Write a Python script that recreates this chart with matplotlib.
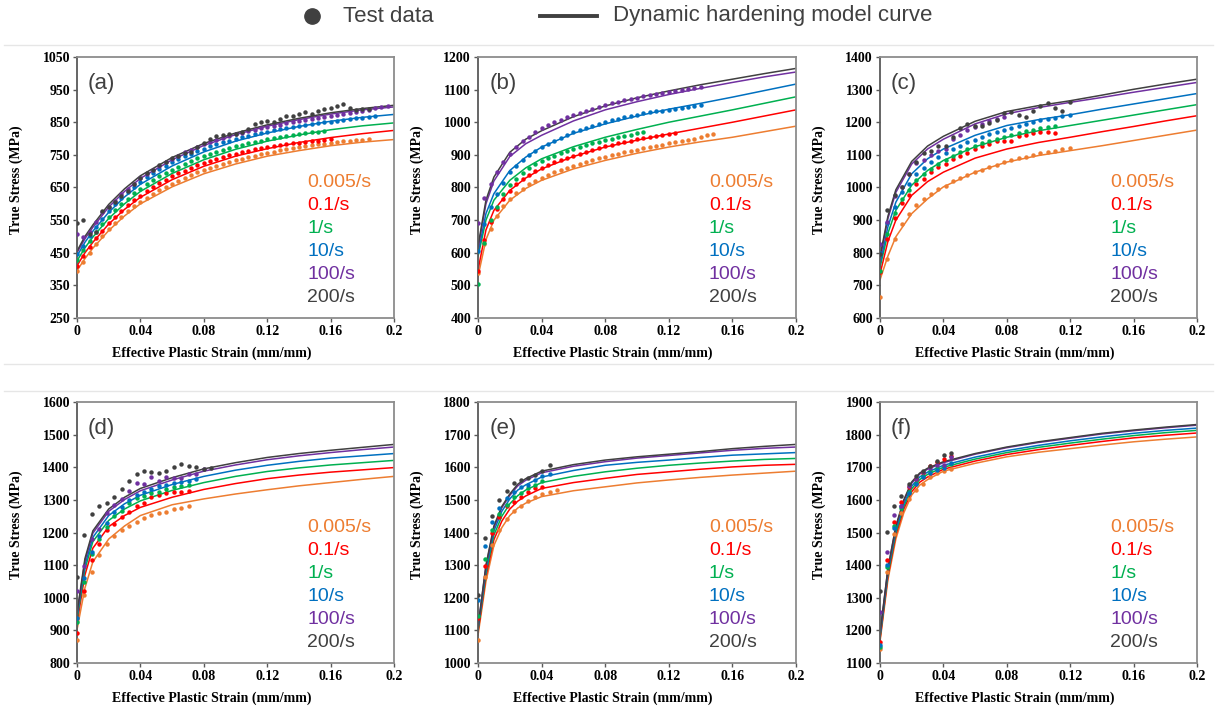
import matplotlib
matplotlib.use("Agg")
import matplotlib.pyplot as plt
from matplotlib.lines import Line2D

RATES = ["0.005/s", "0.1/s", "1/s", "10/s", "100/s", "200/s"]
COLORS = ["#ED7D31", "#FF0000", "#00B050", "#0070C0", "#7030A0", "#404040"]
X_TICKS = [0, 0.04, 0.08, 0.12, 0.16, 0.2]
X_TICK_LABELS = ["0", "0.04", "0.08", "0.12", "0.16", "0.2"]

# ---- model curves (strain grid, then one list per rate: 0.005, 0.1, 1, 10, 100, 200 /s)
MODEL_X1 = [0, 0.005, 0.01, 0.02, 0.03, 0.04, 0.06, 0.08, 0.10, 0.12, 0.14, 0.16, 0.18, 0.20]
MODEL_X2 = [0, 0.005, 0.01, 0.015, 0.02, 0.025, 0.03, 0.04, 0.06, 0.08, 0.10, 0.12, 0.14, 0.16, 0.18, 0.20]

A_MODEL = [
    [395, 432, 464, 518, 563, 600, 652, 692, 722, 746, 763, 778, 789, 797],
    [410, 450, 482, 538, 583, 620, 674, 715, 746, 769, 788, 803, 815, 825],
    [425, 465, 498, 555, 600, 638, 693, 735, 767, 792, 811, 827, 839, 848],
    [440, 482, 516, 574, 621, 660, 716, 759, 792, 817, 837, 853, 865, 874],
    [450, 493, 528, 590, 638, 678, 735, 779, 812, 838, 858, 875, 888, 897],
    [455, 500, 535, 598, 646, 686, 742, 785, 817, 842, 862, 879, 892, 902],
]
B_MODEL = [
    [527, 640, 700, 761, 797, 822, 857, 883, 905, 924, 940, 954, 971, 988],
    [547, 670, 730, 791, 829, 857, 895, 924, 945, 964, 982, 1000, 1019, 1038],
    [588, 700, 761, 822, 860, 888, 925, 954, 978, 1000, 1019, 1038, 1058, 1078],
    [598, 720, 781, 852, 893, 924, 966, 995, 1019, 1040, 1058, 1077, 1097, 1117],
    [612, 750, 820, 895, 934, 960, 1004, 1038, 1063, 1085, 1104, 1122, 1139, 1154],
    [620, 761, 832, 908, 948, 974, 1017, 1050, 1075, 1096, 1115, 1132, 1149, 1165],
]
C_MODEL = [
    [717, 790, 849, 920, 965, 1002, 1047, 1078, 1098, 1113, 1128, 1144, 1160, 1176],
    [735, 835, 900, 976, 1018, 1047, 1090, 1118, 1138, 1154, 1171, 1187, 1204, 1220],
    [755, 860, 930, 1007, 1052, 1083, 1125, 1154, 1174, 1190, 1206, 1222, 1238, 1254],
    [765, 880, 955, 1042, 1088, 1118, 1160, 1190, 1208, 1223, 1240, 1256, 1272, 1288],
    [780, 905, 985, 1072, 1118, 1148, 1195, 1226, 1245, 1261, 1276, 1292, 1307, 1322],
    [788, 912, 993, 1080, 1127, 1157, 1203, 1233, 1251, 1266, 1283, 1301, 1317, 1332],
]
D_MODEL = [
    [902, 1030, 1110, 1180, 1220, 1252, 1285, 1303, 1318, 1331, 1343, 1353, 1363, 1372],
    [922, 1070, 1152, 1218, 1252, 1277, 1308, 1332, 1350, 1365, 1376, 1385, 1392, 1399],
    [933, 1088, 1172, 1237, 1272, 1297, 1329, 1353, 1372, 1387, 1398, 1407, 1414, 1421],
    [943, 1100, 1185, 1252, 1288, 1314, 1347, 1372, 1391, 1406, 1418, 1428, 1435, 1442],
    [948, 1112, 1198, 1265, 1301, 1328, 1361, 1388, 1407, 1423, 1435, 1445, 1454, 1462],
    [953, 1120, 1205, 1272, 1308, 1335, 1368, 1395, 1414, 1430, 1442, 1452, 1461, 1470],
]
E_MODEL = [
    [1085, 1250, 1360, 1415, 1452, 1475, 1490, 1510, 1528, 1540, 1552, 1561, 1569, 1576, 1582, 1588],
    [1095, 1265, 1378, 1435, 1472, 1496, 1512, 1535, 1553, 1566, 1578, 1586, 1594, 1601, 1606, 1609],
    [1100, 1275, 1392, 1450, 1488, 1513, 1530, 1553, 1572, 1586, 1597, 1606, 1613, 1619, 1624, 1627],
    [1105, 1285, 1405, 1465, 1503, 1530, 1546, 1570, 1590, 1606, 1615, 1622, 1630, 1637, 1641, 1645],
    [1108, 1296, 1415, 1476, 1514, 1543, 1560, 1583, 1603, 1617, 1628, 1636, 1644, 1652, 1658, 1662],
    [1110, 1300, 1420, 1480, 1518, 1548, 1565, 1588, 1608, 1622, 1632, 1640, 1648, 1657, 1664, 1670],
]
F_MODEL = [
    [1165, 1355, 1480, 1560, 1615, 1645, 1662, 1688, 1712, 1732, 1746, 1757, 1768, 1778, 1786, 1793],
    [1172, 1365, 1492, 1572, 1625, 1654, 1670, 1694, 1719, 1739, 1754, 1767, 1779, 1790, 1798, 1805],
    [1178, 1373, 1500, 1580, 1634, 1662, 1678, 1700, 1725, 1745, 1761, 1774, 1786, 1797, 1806, 1813],
    [1182, 1380, 1508, 1588, 1642, 1670, 1685, 1706, 1731, 1751, 1767, 1781, 1793, 1804, 1813, 1820],
    [1188, 1388, 1517, 1597, 1651, 1679, 1694, 1714, 1740, 1760, 1776, 1789, 1802, 1812, 1821, 1829],
    [1190, 1390, 1520, 1600, 1655, 1682, 1697, 1717, 1742, 1762, 1778, 1791, 1804, 1814, 1823, 1831],
]

# ---- test data (strain samples, then stress per rate; lists stop where the test stopped)
TEST_X_AB = [0.000, 0.004, 0.008, 0.012, 0.016, 0.020, 0.024, 0.028, 0.032, 0.036,
             0.040, 0.044, 0.048, 0.052, 0.056, 0.060, 0.064, 0.068, 0.072, 0.076,
             0.080, 0.084, 0.088, 0.092, 0.096, 0.100, 0.104, 0.108, 0.112, 0.116,
             0.120, 0.124, 0.128, 0.132, 0.136, 0.140, 0.144, 0.148, 0.152, 0.156,
             0.160, 0.164, 0.168, 0.172, 0.176, 0.180, 0.184, 0.188, 0.192, 0.196]
TEST_X_C = [0, 0.0046, 0.0092, 0.0138, 0.0184, 0.0230, 0.0276, 0.0322, 0.0368, 0.0414,
            0.0460, 0.0506, 0.0552, 0.0598, 0.0644, 0.0690, 0.0736, 0.0782, 0.0828, 0.0874,
            0.0920, 0.0966, 0.1012, 0.1058, 0.1104, 0.1150, 0.1196]
TEST_X_D = [0, 0.0047, 0.0094, 0.0141, 0.0188, 0.0235, 0.0282, 0.0329, 0.0376, 0.0423,
            0.0470, 0.0517, 0.0564, 0.0611, 0.0658, 0.0705, 0.0752, 0.0799, 0.0846]
TEST_X_EF = [0, 0.0045, 0.0090, 0.0135, 0.0180, 0.0225, 0.0270, 0.0315, 0.0360, 0.0405,
             0.0450, 0.0495]

A_TEST = [
    [395, 422, 450, 476, 500, 522, 542, 560, 577, 592, 606, 619, 631, 642, 652, 662, 671, 680,
     688, 696, 703, 710, 716, 722, 728, 733, 738, 743, 748, 752, 756, 760, 764, 767, 770, 773,
     776, 779, 782, 784, 786, 789, 791, 793, 795, 797, 799],
    [410, 440, 468, 494, 518, 540, 560, 578, 595, 611, 625, 639, 651, 663, 674, 684, 693, 702,
     710, 718, 725, 732, 738, 744, 749, 754, 759, 763, 767, 770, 773, 776, 779, 782, 785, 787,
     790, 792, 794, 796, 798],
    [428, 458, 487, 513, 537, 560, 580, 599, 616, 632, 646, 660, 672, 684, 695, 705, 714, 723,
     731, 739, 746, 753, 759, 765, 771, 776, 781, 786, 790, 794, 798, 802, 805, 808, 811, 814,
     817, 819, 821, 823],
    [445, 470, 500, 528, 553, 577, 598, 618, 636, 652, 667, 681, 694, 706, 717, 727, 737, 746,
     754, 762, 769, 776, 782, 788, 794, 799, 804, 809, 813, 817, 821, 825, 829, 832, 835, 838,
     841, 844, 847, 850, 852, 855, 857, 860, 862, 864, 866, 868],
    [508, 497, 515, 545, 575, 590, 610, 630, 645, 662, 678, 690, 703, 716, 727, 738, 748, 758,
     766, 775, 783, 790, 797, 803, 808, 813, 818, 822, 827, 831, 835, 839, 843, 847, 850, 853,
     856, 859, 862, 865, 868, 871, 874, 877, 880, 884, 889, 893, 897, 900],
    [540, 550, 508, 515, 578, 590, 605, 625, 640, 660, 680, 695, 705, 718, 728, 740, 748, 755,
     760, 775, 785, 800, 808, 812, 815, 815, 820, 830, 845, 852, 855, 850, 860, 870, 868, 875,
     880, 875, 885, 890, 895, 900, 905, 895, 888, 892, 890],
]
B_TEST = [
    [537, 628, 674, 712, 742, 764, 782, 796, 810, 820, 830, 838, 846, 853, 860, 866, 872, 878,
     884, 889, 894, 899, 904, 908, 912, 916, 920, 924, 928, 931, 935, 938, 942, 945, 950, 955,
     960, 965],
    [543, 640, 693, 733, 766, 790, 810, 825, 838, 851, 860, 869, 877, 884, 891, 898, 904, 910,
     916, 921, 926, 931, 936, 940, 944, 948, 952, 956, 959, 962, 965, 966],
    [505, 630, 700, 740, 780, 808, 826, 843, 860, 871, 881, 890, 898, 905, 912, 918, 924, 930,
     935, 940, 945, 950, 954, 958, 962, 966, 970],
    [604, 688, 740, 781, 815, 846, 866, 885, 900, 912, 923, 934, 944, 953, 961, 969, 976, 983,
     989, 995, 1001, 1006, 1011, 1015, 1019, 1023, 1027, 1030, 1033, 1036, 1039, 1042, 1045,
     1048, 1050, 1053],
    [692, 768, 812, 849, 877, 902, 923, 941, 956, 969, 981, 991, 1000, 1008, 1016, 1023, 1029,
     1035, 1041, 1047, 1053, 1058, 1063, 1067, 1071, 1075, 1079, 1083, 1086, 1090, 1094, 1097,
     1100, 1103, 1105, 1108],
    [],
]
C_TEST = [
    [663, 782, 843, 889, 919, 945, 964, 980, 995, 1006, 1019, 1028, 1039, 1047, 1055, 1064,
     1070, 1077, 1084, 1089, 1094, 1101, 1105, 1109, 1113, 1117, 1120],
    [740, 841, 905, 951, 976, 1010, 1027, 1047, 1062, 1073, 1088, 1098, 1106, 1118, 1126, 1132,
     1141, 1144, 1141, 1159, 1161, 1166, 1171, 1171, 1167],
    [744, 859, 923, 964, 991, 1022, 1042, 1057, 1073, 1085, 1098, 1108, 1118, 1127, 1136, 1142,
     1149, 1156, 1162, 1168, 1174, 1177, 1182, 1184, 1190],
    [800, 890, 940, 985, 1012, 1040, 1060, 1078, 1092, 1105, 1117, 1128, 1138, 1147, 1155, 1163,
     1170, 1177, 1183, 1190, 1196, 1201, 1206, 1210, 1214, 1218, 1222],
    [826, 895, 975, 1000, 1042, 1075, 1085, 1100, 1112, 1118, 1150, 1162, 1175, 1185, 1195, 1205,
     1210, 1215],
    [795, 930, 976, 1000, 1040, 1078, 1106, 1113, 1126, 1126, 1156, 1182, 1195, 1190, 1187, 1197,
     1208, 1227, 1230, 1223, 1217, 1233, 1251, 1258, 1245, 1235, 1262],
]
D_TEST = [
    [871, 1007, 1080, 1131, 1165, 1190, 1208, 1220, 1233, 1244, 1253, 1259, 1264, 1271, 1276, 1281],
    [891, 1022, 1116, 1165, 1208, 1226, 1249, 1264, 1281, 1290, 1310, 1315, 1322, 1325, 1325, 1327],
    [927, 1049, 1133, 1179, 1218, 1251, 1266, 1290, 1305, 1312, 1320, 1325, 1332, 1339, 1343, 1346],
    [937, 1060, 1141, 1189, 1228, 1262, 1279, 1300, 1315, 1325, 1332, 1341, 1346, 1351, 1356, 1359,
     1363],
    [1022, 1097, 1180, 1211, 1261, 1284, 1303, 1328, 1351, 1348, 1369, 1359, 1371, 1366, 1368, 1378,
     1379, 1394],
    [1065, 1192, 1257, 1281, 1290, 1308, 1332, 1359, 1379, 1390, 1384, 1381, 1389, 1400, 1409, 1405,
     1402, 1394, 1397],
]
E_TEST = [
    [1070, 1265, 1362, 1408, 1441, 1467, 1482, 1497, 1508, 1518, 1525, 1530],
    [1137, 1297, 1397, 1446, 1481, 1494, 1510, 1525, 1537, 1540],
    [1145, 1319, 1408, 1457, 1484, 1508, 1520, 1535, 1546, 1559],
    [1193, 1360, 1433, 1474, 1505, 1525, 1538, 1546, 1561, 1573, 1578],
    [],
    [1208, 1382, 1452, 1500, 1528, 1551, 1561, 1566, 1576, 1590, 1607],
]
F_TEST = [
    [1144, 1380, 1495, 1560, 1602, 1630, 1650, 1671, 1681, 1689, 1696],
    [1164, 1416, 1533, 1592, 1638, 1665, 1683, 1704, 1717, 1726, 1733],
    [1150, 1395, 1520, 1575, 1625, 1652, 1672, 1688, 1698, 1705, 1710],
    [1154, 1399, 1513, 1582, 1620, 1648, 1669, 1681, 1691, 1698, 1713],
    [1256, 1440, 1554, 1582, 1642, 1663, 1685, 1697, 1706, 1708, 1730],
    [1322, 1502, 1582, 1613, 1650, 1672, 1690, 1705, 1720, 1737, 1745],
]

PANELS = [
    ("(a)", MODEL_X1, A_MODEL, TEST_X_AB, A_TEST, 250, 1050),
    ("(b)", MODEL_X1, B_MODEL, TEST_X_AB, B_TEST, 400, 1200),
    ("(c)", MODEL_X1, C_MODEL, TEST_X_C, C_TEST, 600, 1400),
    ("(d)", MODEL_X1, D_MODEL, TEST_X_D, D_TEST, 800, 1600),
    ("(e)", MODEL_X2, E_MODEL, TEST_X_EF, E_TEST, 1000, 1800),
    ("(f)", MODEL_X2, F_MODEL, TEST_X_EF, F_TEST, 1100, 1900),
]

W, H = 1217, 711
# axes boxes in pixels: left, top, right, bottom
BOXES = [(77, 57, 394, 318), (478, 57, 796, 318), (880, 57, 1197, 318),
         (77, 402, 394, 663), (478, 402, 796, 663), (880, 402, 1197, 663)]

SERIF = ["Liberation Serif", "DejaVu Serif"]
SANS = ["Liberation Sans", "DejaVu Sans"]
DARK = "#404040"

fig = plt.figure(figsize=(W / 100, H / 100), dpi=100)

# faint panel separators
for yy in (45, 364, 391):
    fig.add_artist(Line2D([0.003, 0.997], [1 - yy / H, 1 - yy / H], color="#e6e6e6", lw=1))

for (tag, mx, models, tx, tests, y0, y1), (l, t, r, b) in zip(PANELS, BOXES):
    ax = fig.add_axes([l / W, 1 - b / H, (r - l) / W, (b - t) / H])
    for i in range(6):
        ax.plot(mx, models[i], color=COLORS[i], lw=1.1, zorder=2)
    for i in range(6):
        ys = tests[i]
        if ys:
            ax.plot(tx[:len(ys)], ys, ls="none", marker="o", ms=3.2, mew=0,
                    color=COLORS[i], zorder=3)
    ax.set_xlim(0, 0.2)
    ax.set_ylim(y0, y1)
    ax.set_xticks(X_TICKS)
    ax.set_xticklabels(X_TICK_LABELS)
    ax.set_yticks(range(y0, y1 + 1, 100))
    for s in ax.spines.values():
        s.set_color("#8c8c8c")
        s.set_linewidth(1.3)
    ax.spines["left"].set_color("#595959")
    ax.tick_params(direction="out", length=3, width=1, color="#595959", pad=2)
    for lab in ax.get_xticklabels() + ax.get_yticklabels():
        lab.set_fontfamily(SERIF)
        lab.set_fontweight("bold")
        lab.set_fontsize(10)
    ax.set_xlabel("Effective Plastic Strain (mm/mm)", family=SERIF, weight="bold",
                  fontsize=10, va="center")
    ax.set_ylabel("True Stress (MPa)", family=SERIF, weight="bold", fontsize=10,
                  va="center")
    ax.xaxis.set_label_coords(0.5 - 24 / (r - l), -35 / (b - t))
    ax.yaxis.set_label_coords(-61 / (r - l), 0.5 + 8 / (b - t))
    ax.text(0.035, 0.90, tag, transform=ax.transAxes, family=SANS, fontsize=16,
            color=DARK, va="center", ha="left")
    for i, name in enumerate(RATES):
        ax.text(0.726, 0.52 - i * 0.088, name, transform=ax.transAxes, family=SANS,
                fontsize=14, color=COLORS[i], va="center", ha="left")

# legend across the top
fig.add_artist(Line2D([312 / W], [1 - 16 / H], ls="none", marker="o", ms=11, color=DARK))
fig.text(343 / W, 1 - 16 / H, "Test data", family=SANS, fontsize=16, color=DARK,
         va="center", ha="left")
fig.add_artist(Line2D([540 / W, 597 / W], [1 - 16 / H, 1 - 16 / H], lw=2.8, color=DARK))
fig.text(613 / W, 1 - 16 / H, "Dynamic hardening model curve", family=SANS, fontsize=16,
         color=DARK, va="center", ha="left")

fig.savefig("out.png", dpi=100)
